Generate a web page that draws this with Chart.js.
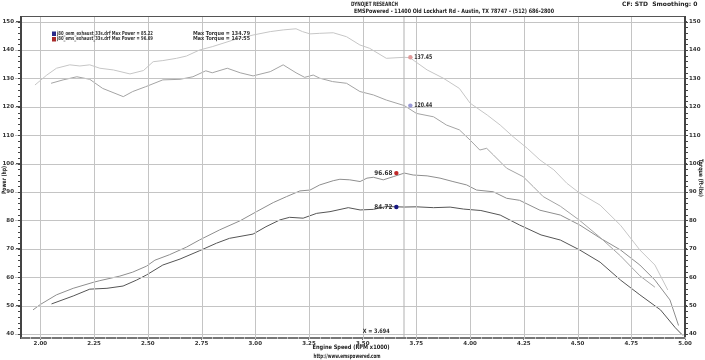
<!DOCTYPE html>
<html><head><meta charset="utf-8">
<script src="https://cdn.jsdelivr.net/npm/chart.js@4/dist/chart.umd.min.js"></script>
<style>html,body{margin:0;padding:0;background:#fff}</style>
</head><body>
<canvas id="c" width="705" height="360"></canvas>
<script>
// ---- Data (RPM x1000 / hp / ft-lbs) ----
const rpmPowerEms = [1.966,2.00,2.075,2.153,2.246,2.277,2.37,2.43,2.494,2.533,2.60,2.68,2.74,2.835,2.93,3.006,3.084,3.146,3.208,3.255,3.30,3.363,3.394,3.44,3.488,3.52,3.55,3.596,3.642,3.694,3.735,3.80,3.86,3.92,3.984,4.03,4.108,4.17,4.23,4.325,4.42,4.51,4.605,4.70,4.79,4.86,4.93,4.97];
const powerEms    = [48.5,50.4,53.8,56.1,58.2,58.8,60.4,61.8,63.9,66.0,67.9,70.6,73.1,76.7,79.9,83.1,86.3,88.4,90.4,90.7,92.5,94.0,94.5,94.3,93.7,94.9,95.2,94.3,95.4,96.68,96.0,95.7,94.9,93.7,92.5,90.7,90.1,87.8,87.1,83.6,81.9,78.4,73.8,69.6,64.3,59.0,52.0,43.0];

const rpmPowerOem = [2.052,2.153,2.23,2.31,2.385,2.448,2.494,2.57,2.65,2.74,2.82,2.88,2.99,3.05,3.115,3.16,3.223,3.286,3.348,3.433,3.488,3.55,3.61,3.694,3.75,3.83,3.907,3.97,4.05,4.14,4.23,4.33,4.42,4.51,4.605,4.70,4.79,4.886,4.955,4.99];
const powerOem    = [50.6,53.4,55.8,56.1,56.9,59.0,60.8,64.3,66.4,69.3,72.0,73.7,75.2,77.8,80.2,81.1,80.8,82.5,83.1,84.5,83.7,83.9,84.9,84.72,84.8,84.5,84.7,84.0,83.5,81.9,78.4,74.9,73.1,69.6,65.3,59.0,53.8,48.5,42.2,39.5];

const rpmTorqueEms = [1.975,2.03,2.075,2.137,2.184,2.23,2.277,2.34,2.417,2.48,2.525,2.57,2.634,2.68,2.74,2.80,2.90,2.99,3.07,3.13,3.19,3.22,3.255,3.30,3.363,3.425,3.487,3.533,3.61,3.694,3.72,3.80,3.875,3.95,4.00,4.08,4.14,4.20,4.266,4.325,4.39,4.45,4.51,4.605,4.70,4.79,4.86,4.92];
const torqueEms    = [127.7,131.2,133.6,134.8,134.4,134.8,133.6,133.0,131.6,132.8,135.9,136.3,137.1,137.9,140.0,141.2,143.6,145.3,146.5,147.1,147.5,146.5,145.7,145.9,146.1,144.7,141.8,140.6,137.1,137.45,137.3,133.0,130.1,126.5,121.3,117.1,113.6,109.5,105.4,101.3,97.8,93.1,89.6,85.4,78.3,69.6,64.3,55.5];

const rpmTorqueOem = [2.05,2.106,2.17,2.23,2.29,2.386,2.43,2.49,2.57,2.65,2.71,2.77,2.80,2.87,2.93,2.99,3.07,3.13,3.19,3.23,3.27,3.30,3.36,3.425,3.487,3.55,3.61,3.694,3.75,3.83,3.89,3.95,4.00,4.045,4.077,4.108,4.17,4.247,4.294,4.34,4.42,4.51,4.605,4.70,4.79,4.86];
const torqueOem    = [128.3,129.5,130.6,129.7,126.5,123.6,125.4,127.1,129.5,129.7,130.6,132.7,132.0,133.6,132.0,130.9,132.4,134.8,132.0,130.4,131.2,130.1,128.9,128.3,125.4,124.2,122.4,120.44,117.7,116.5,113.6,111.9,108.3,104.8,105.4,103.1,98.4,95.4,91.9,88.4,85.0,80.0,74.0,67.5,60.5,56.5];

const cursorRpm = 3.694;
const cursorValues = [137.45, 120.44, 96.68, 84.72];
const legendNames = ["j80_oem_exhaust_33s.drf", "j80_ems_exhaust_33s.drf"];
const legendMaxPower = ["85.22", "96.69"];
const legendMaxTorque = ["134.79", "147.55"];

const FONT = "'DejaVu Sans', sans-serif";
const toXY = (xs, ys) => xs.map((x, i) => ({x, y: ys[i]}));

function txt(ctx, s, x, y, w, opts) {
  opts = opts || {};
  ctx.save();
  ctx.font = "bold " + (opts.size || 6) + "px " + FONT;
  ctx.fillStyle = opts.color || "#222";
  ctx.textAlign = opts.align || "left";
  ctx.textBaseline = "middle";
  if (opts.rot) { ctx.translate(x, y); ctx.rotate(opts.rot); x = 0; y = 0; }
  if (w) ctx.fillText(s, x, y, w); else ctx.fillText(s, x, y);
  ctx.restore();
}

const deco = {
  id: 'deco',
  afterDraw(chart) {
    const {ctx, chartArea: a, scales: {x, y}} = chart;
    ctx.save();
    // grid (solid light lines)
    ctx.fillStyle = "#c4c4c4";
    y.ticks.forEach(t => {
      const py = Math.round(y.getPixelForValue(t.value));
      ctx.fillRect(Math.round(a.left) - 6, py, Math.round(a.right - a.left) + 6, 1);
    });
    x.ticks.forEach(t => {
      const pxx = Math.round(x.getPixelForValue(t.value));
      if (pxx >= a.right - 1) return;
      ctx.fillRect(pxx, Math.round(a.top), 1, Math.round(a.bottom - a.top));
    });
    // cursor line
    const px = x.getPixelForValue(cursorRpm);
    ctx.globalAlpha = 0.55;
    ctx.fillStyle = "#b8b8b8";
    ctx.fillRect(Math.round(px) - 1, a.top, 2, a.bottom - a.top);
    ctx.globalAlpha = 1;
    // frame
    ctx.fillStyle = "#555";
    ctx.fillRect(a.left, a.top, a.right - a.left, 1);
    ctx.fillStyle = "#444";
    ctx.fillRect(a.left - 1, a.top, 2, a.bottom - a.top + 1);
    ctx.fillRect(a.right - 1, a.top, 2, a.bottom - a.top + 1);
    ctx.fillStyle = "#777";
    ctx.fillRect(a.left, a.bottom - 1, a.right - a.left, 2);
    ctx.fillStyle = "#444";
    for (let v = 40; v <= 150; v += 2) {
      const py = Math.round(y.getPixelForValue(v));
      ctx.fillRect(a.left - 3, py, 3, 1);
      ctx.fillRect(a.right, py, 3, 1);
    }
    ctx.fillStyle = "#c0c0c0";
    for (let v = 1.95; v <= 5.0001; v += 0.05) {
      const pxx = Math.round(x.getPixelForValue(v));
      ctx.fillRect(pxx, a.bottom - 1, 1, 2);
    }
    // cursor markers and values
    const cols = ["#e09a9a", "#9a9ad8", "#c02828", "#181880"];
    cursorValues.forEach((v, i) => {
      const py = y.getPixelForValue(v);
      const mx = px + (i < 2 ? 6 : -8);
      ctx.fillStyle = cols[i];
      ctx.beginPath(); ctx.arc(mx, py, 2.2, 0, Math.PI * 2); ctx.fill();
      if (i < 2) txt(ctx, v.toFixed(2), mx + 4, py, 18, {size: 6.5, color: "#333"});
      else txt(ctx, v.toFixed(2), mx - 4, py, 18, {size: 6.5, color: "#333", align: "right"});
    });
    ctx.restore();
    txt(ctx, "X = " + cursorRpm.toFixed(3), x.getPixelForValue(3.5), a.bottom - 7, 27, {size: 6, color: "#333"});
    txt(ctx, "DYNOJET RESEARCH", 351, 4, 47, {size: 6});
    txt(ctx, "EMSPowered - 11400 Old Lockhart Rd - Austin, TX 78747 - (512) 686-2800", 354, 11.5, 200, {size: 6});
    txt(ctx, "CF: STD  Smoothing: 0", 622, 4, 76, {size: 6});
    const sw = ["#2a2a8a", "#a82a2a"];
    [0, 1].forEach(i => {
      const yy = 33.5 + i * 5.5;
      ctx.fillStyle = sw[i]; ctx.fillRect(52, yy - 2, 4, 4.5);
      txt(ctx, legendNames[i] + " Max Power = " + legendMaxPower[i], 57, yy, 96, {size: 5.5, color: "#333"});
      txt(ctx, "Max Torque = " + legendMaxTorque[i], 193, yy, 57, {size: 5.5, color: "#333"});
    });
    txt(ctx, "Power (hp)", 4, 180, 28, {size: 6, align: "center", rot: -Math.PI / 2});
    txt(ctx, "Torque (ft-lbs)", 701, 178, 38, {size: 6, align: "center", rot: Math.PI / 2});
    txt(ctx, "Engine Speed (RPM x1000)", 351, 347.5, 77, {size: 6, align: "center"});
    txt(ctx, "http://www.emspowered.com", 347, 356, 67, {size: 6, align: "center"});
  }
};

const tickFont = {family: FONT, size: 5.5, weight: 'bold'};

new Chart(document.getElementById('c'), {
  type: 'line',
  data: {
    datasets: [
      {label: 'Torque ems', data: toXY(rpmTorqueEms, torqueEms), borderColor: '#c6c6c6', yAxisID: 'y2'},
      {label: 'Torque oem', data: toXY(rpmTorqueOem, torqueOem), borderColor: '#a4a4a4', yAxisID: 'y2'},
      {label: 'Power ems', data: toXY(rpmPowerEms, powerEms), borderColor: '#8e8e8e', yAxisID: 'y'},
      {label: 'Power oem', data: toXY(rpmPowerOem, powerOem), borderColor: '#555555', yAxisID: 'y'}
    ].map(d => Object.assign(d, {borderWidth: 1, pointRadius: 0, tension: 0, fill: false}))
  },
  options: {
    responsive: false, animation: false, devicePixelRatio: 1,
    layout: {padding: {top: 16, left: 0, right: 0, bottom: 0}},
    plugins: {legend: {display: false}, tooltip: {enabled: false}},
    scales: {
      x: {
        type: 'linear', min: 1.91, max: 5.0,
        ticks: {stepSize: 0.25, includeBounds: false, font: tickFont, color: '#333', padding: 0,
                callback: v => Number(v).toFixed(2), maxRotation: 0, autoSkip: false},
        grid: {drawOnChartArea: false, tickLength: 2, tickColor: '#777'},
        border: {display: false},
        afterFit: s => { s.height = 22; }
      },
      y: {
        type: 'linear', position: 'left', min: 38.6, max: 152,
        ticks: {stepSize: 10, includeBounds: false, font: tickFont, color: '#333', padding: 2},
        grid: {drawOnChartArea: false, tickLength: 5, tickColor: '#555'},
        border: {display: false},
        afterFit: s => { s.width = 21; }
      },
      y2: {
        type: 'linear', position: 'right', min: 38.6, max: 152,
        ticks: {stepSize: 10, includeBounds: false, font: tickFont, color: '#333', padding: 2},
        grid: {drawOnChartArea: false, tickLength: 2, tickColor: '#555'},
        border: {display: false},
        afterFit: s => { s.width = 20; }
      }
    }
  },
  plugins: [deco]
});
</script>
</body></html>
